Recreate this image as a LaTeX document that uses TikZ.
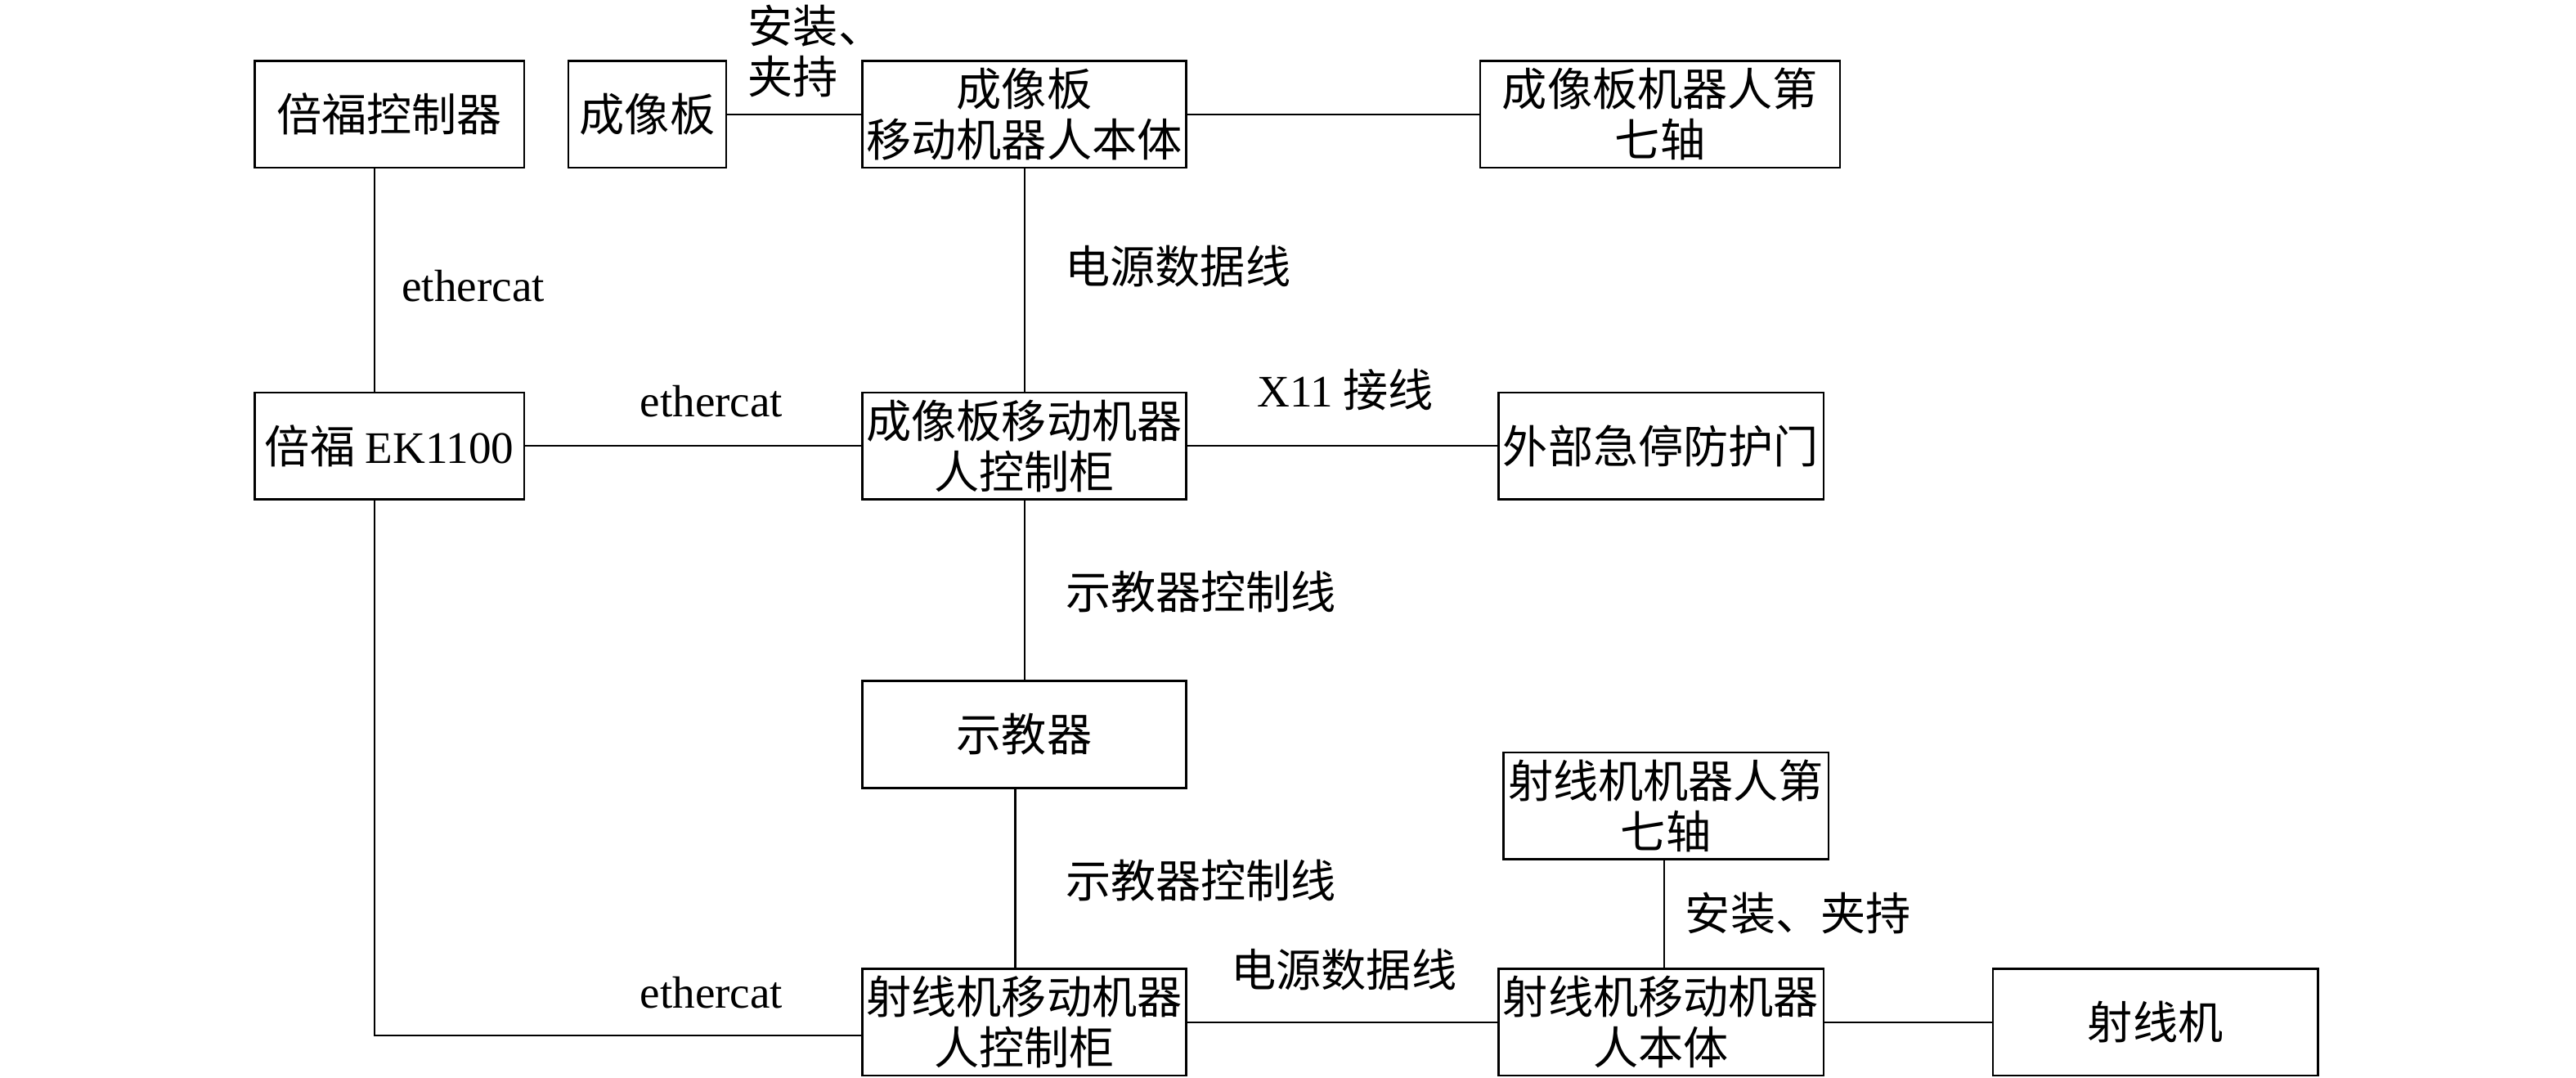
\documentclass[tikz,border=0pt]{standalone}
\usepackage{fontspec}
\setmainfont{Liberation Serif}
\newfontfamily\cjk{Noto Sans CJK SC}
\usetikzlibrary{positioning}

\begin{document}
\begin{tikzpicture}[x=0.02009cm, y=-0.02009cm,
  kuang/.style={draw, line width=0.75pt, minimum height=1.306cm, align=center, inner sep=1pt, font=\fontsize{15.7}{17.7}\selectfont\cjk},
  xian/.style={draw, line width=0.6pt},
  biao/.style={font=\fontsize{15.7}{17.7}\selectfont\cjk, inner sep=0pt}]
\useasboundingbox (0,0) rectangle (1568,655.6);
% top row
\node[kuang, minimum width=3.295cm] (bkz) at (237,69.5) {倍福控制器};
\node[kuang, minimum width=1.93cm] (cxb) at (394,69.5) {成像板};
\node[kuang, minimum width=3.958cm] (cxbt) at (623.5,69.5) {成像板\\移动机器人本体};
\node[kuang, minimum width=4.40cm] (cxqz) at (1010.5,69.5) {成像板机器人第\\七轴};
% middle row
\node[kuang, minimum width=3.295cm] (ek) at (237,271.5) {倍福 {\rmfamily EK1100}};
\node[kuang, minimum width=3.958cm] (cxkz) at (623.5,271.5) {成像板移动机器\\人控制柜};
\node[kuang, minimum width=3.978cm] (jtm) at (1011,271.5) {外部急停防护门};
\node[kuang, minimum width=3.958cm] (sjq) at (623.5,447) {示教器};
% bottom row
\node[kuang, minimum width=3.978cm] (sxqz) at (1014,490.5) {射线机机器人第\\七轴};
\node[kuang, minimum width=3.958cm] (sxkz) at (623.5,622) {射线机移动机器\\人控制柜};
\node[kuang, minimum width=3.978cm] (sxbt) at (1011,622) {射线机移动机器\\人本体};
\node[kuang, minimum width=3.978cm] (sxj) at (1312,622) {射线机};
\coordinate (c1) at (228,0);
\coordinate (c2) at (618,0);
\coordinate (c3) at (0,630);
\coordinate (c4) at (1013,0);
% connectors
\draw[xian] (bkz.south -| c1) -- (ek.north -| c1);
\draw[xian] (cxb) -- (cxbt);
\draw[xian] (cxbt) -- (cxqz);
\draw[xian] (cxbt) -- (cxkz);
\draw[xian] (ek) -- (cxkz);
\draw[xian] (cxkz) -- (jtm);
\draw[xian] (cxkz) -- (sjq);
\draw[xian] (sjq.south -| c2) -- (sxkz.north -| c2);
\draw[xian] (ek.south -| c1) |- (sxkz.west |- c3);
\draw[xian] (sxkz) -- (sxbt);
\draw[xian] (sxqz.south -| c4) -- (sxbt.north -| c4);
\draw[xian] (sxbt) -- (sxj);
% labels
\node[biao, font=\fontsize{15.7}{17.7}\selectfont] (l1) at (288,174) {ethercat};
\node[biao, font=\fontsize{15.7}{17.7}\selectfont] (l2) at (433,244) {ethercat};
\node[biao, font=\fontsize{15.7}{17.7}\selectfont] (l3) at (433,604) {ethercat};
\node[biao, align=left, anchor=west] (l4) at (455,31) {安装、\\夹持};
\node[biao] (l5) at (717,162) {电源数据线};
\node[biao] (l6) at (819,237) {{\rmfamily X11} 接线};
\node[biao] (l7) at (731,360) {示教器控制线};
\node[biao] (l8) at (731,536) {示教器控制线};
\node[biao] (l9) at (818,590) {电源数据线};
\node[biao] (l10) at (1094.5,556) {安装、夹持};
\end{tikzpicture}
\end{document}
